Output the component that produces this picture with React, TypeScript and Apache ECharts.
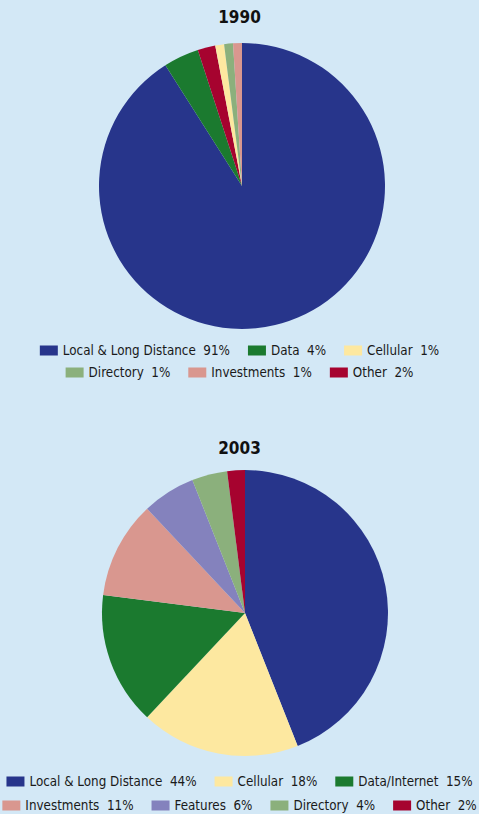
import React, { useEffect, useRef } from "react";
import * as echarts from "echarts";

const COLORS: Record<string, string> = {
  "Local & Long Distance": "#27358b",
  "Data": "#1b7a2f",
  "Data/Internet": "#1b7a2f",
  "Cellular": "#fde8a0",
  "Directory": "#8bb07c",
  "Investments": "#d9978f",
  "Other": "#a6032f",
  "Features": "#8482bd",
};

// 1990: clockwise order from 12 o'clock
const slices1990 = ["Local & Long Distance", "Data", "Other", "Cellular", "Directory", "Investments"];
const values1990 = [91, 4, 2, 1, 1, 1];
const legend1990Row1 = ["Local & Long Distance", "Data", "Cellular"];
const legend1990Row2 = ["Directory", "Investments", "Other"];

// 2003
const slices2003 = ["Local & Long Distance", "Cellular", "Data/Internet", "Investments", "Features", "Directory", "Other"];
const values2003 = [44, 18, 15, 11, 6, 4, 2];
const legend2003Row1 = ["Local & Long Distance", "Cellular", "Data/Internet"];
const legend2003Row2 = ["Investments", "Features", "Directory", "Other"];

const titles = ["1990", "2003"];

const FONT = "'Liberation Sans Narrow', 'DejaVu Sans Condensed', 'Liberation Sans', sans-serif";

export default function App() {
  const ref = useRef<HTMLDivElement>(null);
  useEffect(() => {
    document.body.style.margin = "0";
    const chart = echarts.init(ref.current!, undefined, { renderer: "svg" });
    const lookup = (names: string[], vals: number[]) => (n: string) => `${n}  ${vals[names.indexOf(n)]}%`;
    const f90 = lookup(slices1990, values1990);
    const f03 = lookup(slices2003, values2003);
    const legendBase = {
      orient: "horizontal" as const,
      left: "center",
      width: 479,
      itemWidth: 18,
      itemHeight: 10,
      itemGap: 18,
      icon: "rect",
      textStyle: { fontFamily: FONT, fontSize: 13.3, color: "#1a1a1a", padding: [0, 0, 0, 0] },
      selectedMode: false,
      padding: 0,
    };
    chart.setOption({
      animation: false,
      backgroundColor: "#d3e8f6",
      title: [
        { text: titles[0], left: "center", top: 3, textStyle: { fontFamily: FONT, fontSize: 17, fontWeight: "bold", color: "#111" } },
        { text: titles[1], left: "center", top: 434, textStyle: { fontFamily: FONT, fontSize: 17, fontWeight: "bold", color: "#111" } },
      ],
      legend: [
        { ...legendBase, top: 344, data: legend1990Row1, formatter: f90 },
        { ...legendBase, top: 366, data: legend1990Row2, formatter: f90 },
        { ...legendBase, top: 775, data: legend2003Row1, formatter: f03 },
        { ...legendBase, top: 799, data: legend2003Row2, formatter: f03 },
      ],
      series: [
        {
          type: "pie",
          center: [242, 186],
          radius: 143,
          startAngle: 90,
          clockwise: true,
          label: { show: false },
          labelLine: { show: false },
          emphasis: { disabled: true },
          data: slices1990.map((n, i) => ({ name: n, value: values1990[i], itemStyle: { color: COLORS[n] } })),
        },
        {
          type: "pie",
          center: [245, 613],
          radius: 143,
          startAngle: 90,
          clockwise: true,
          label: { show: false },
          labelLine: { show: false },
          emphasis: { disabled: true },
          data: slices2003.map((n, i) => ({ name: n, value: values2003[i], itemStyle: { color: COLORS[n] } })),
        },
      ],
    });
    return () => chart.dispose();
  }, []);
  return <div ref={ref} style={{ width: 479, height: 814 }} />;
}
